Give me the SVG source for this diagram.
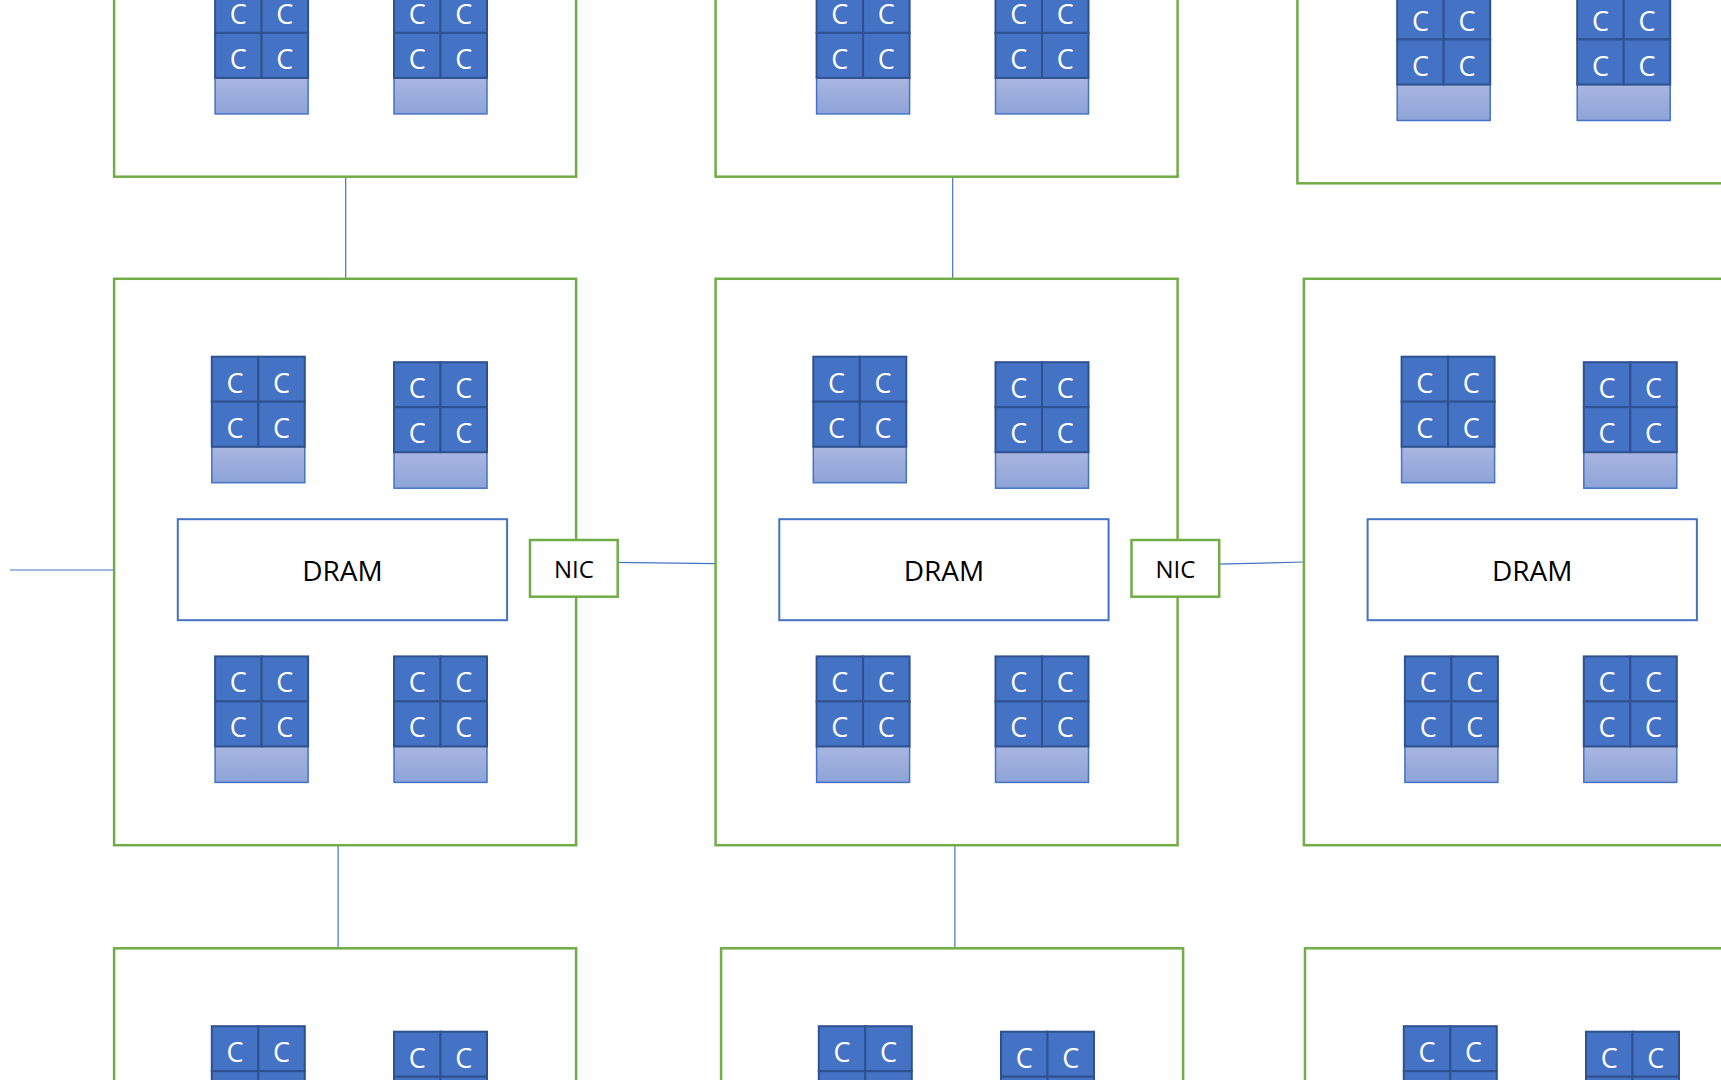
<svg xmlns="http://www.w3.org/2000/svg" xmlns:xlink="http://www.w3.org/1999/xlink" width="1721" height="1080" viewBox="0 0 1721 1080">
<style>
.mod{fill:none;stroke:#70AD47;stroke-width:2.5}
.nic{fill:#fff;stroke:#70AD47;stroke-width:2.5}
.dram{fill:#fff;stroke:#4472C4;stroke-width:2}
.core{fill:#4472C4;stroke:#2F528F;stroke-width:2}
.cache{fill:url(#cg);stroke:#4472C4;stroke-width:1.5}
.ct{font-family:"Open Sans","Noto Sans",sans-serif;font-size:27px;fill:#fff;text-anchor:middle;dominant-baseline:central}
.lbl{font-family:"Open Sans","Noto Sans",sans-serif;fill:#000;text-anchor:middle;dominant-baseline:central}
.conn{stroke:#4472C4;stroke-width:1.2;fill:none}
</style>
<defs>
<linearGradient id="cg" x1="0" y1="0" x2="0" y2="1">
<stop offset="0" stop-color="#A9B6E0"/>
<stop offset="1" stop-color="#8DA3D8"/>
</linearGradient>
<g id="chip">
<rect class="cache" x="0" y="90" width="93" height="36"/>
<rect class="core" x="0" y="0" width="46.5" height="45"/>
<rect class="core" x="46.5" y="0" width="46.5" height="45"/>
<rect class="core" x="0" y="45" width="46.5" height="45"/>
<rect class="core" x="46.5" y="45" width="46.5" height="45"/>
<text class="ct" x="23.25" y="25.5">C</text>
<text class="ct" x="69.75" y="25.5">C</text>
<text class="ct" x="23.25" y="70.5">C</text>
<text class="ct" x="69.75" y="70.5">C</text>
</g>
</defs>
<rect width="1721" height="1080" fill="#fff"/>

<g id="connectors">
<line class="conn" x1="345.7" y1="176.7" x2="345.7" y2="278.8"/>
<line class="conn" x1="952.7" y1="176.7" x2="952.7" y2="278.8"/>
<line class="conn" x1="338.1" y1="845.2" x2="338.1" y2="948.3"/>
<line class="conn" x1="954.9" y1="845.2" x2="954.9" y2="948.3"/>
<line class="conn" x1="10" y1="570" x2="114.1" y2="570"/>
<line class="conn" x1="615" y1="562.3" x2="715.6" y2="563.7"/>
<line class="conn" x1="1218" y1="564.2" x2="1303.9" y2="562"/>
</g>

<g id="module-top-left" transform="translate(114.1,-389.7)">
<rect class="mod" x="0" y="0" width="462" height="566.4"/>
<use xlink:href="#chip" x="101" y="377.6"/>
<use xlink:href="#chip" x="279.9" y="377.6"/>
</g>
<g id="module-top-middle" transform="translate(715.6,-389.7)">
<rect class="mod" x="0" y="0" width="462" height="566.4"/>
<use xlink:href="#chip" x="101" y="377.6"/>
<use xlink:href="#chip" x="279.9" y="377.6"/>
</g>
<g id="module-top-right" transform="translate(1297.4,-383.1)">
<rect class="mod" x="0" y="0" width="462" height="566.4"/>
<use xlink:href="#chip" x="99.8" y="377.6"/>
<use xlink:href="#chip" x="279.8" y="377.6"/>
</g>

<g id="module-mid-left" transform="translate(114.1,278.8)">
<rect class="mod" x="0" y="0" width="462" height="566.4"/>
<use xlink:href="#chip" x="97.7" y="77.9"/>
<use xlink:href="#chip" x="279.9" y="83.4"/>
<use xlink:href="#chip" x="101" y="377.6"/>
<use xlink:href="#chip" x="279.9" y="377.6"/>
<rect class="dram" x="63.7" y="240.4" width="329.3" height="101"/>
<text class="lbl" x="228.3" y="291.5" font-size="28">DRAM</text>
<g id="nic-left">
<rect class="nic" x="415.9" y="261.2" width="87.7" height="56.7"/>
<text class="lbl" x="459.8" y="289.8" font-size="24">NIC</text>
</g>
</g>
<g id="module-mid-middle" transform="translate(715.6,278.8)">
<rect class="mod" x="0" y="0" width="462" height="566.4"/>
<use xlink:href="#chip" x="97.7" y="77.9"/>
<use xlink:href="#chip" x="279.9" y="83.4"/>
<use xlink:href="#chip" x="101" y="377.6"/>
<use xlink:href="#chip" x="279.9" y="377.6"/>
<rect class="dram" x="63.7" y="240.4" width="329.3" height="101"/>
<text class="lbl" x="228.3" y="291.5" font-size="28">DRAM</text>
<g id="nic-middle">
<rect class="nic" x="415.9" y="261.2" width="87.7" height="56.7"/>
<text class="lbl" x="459.8" y="289.8" font-size="24">NIC</text>
</g>
</g>
<g id="module-mid-right" transform="translate(1303.9,278.8)">
<rect class="mod" x="0" y="0" width="462" height="566.4"/>
<use xlink:href="#chip" x="97.7" y="77.9"/>
<use xlink:href="#chip" x="279.9" y="83.4"/>
<use xlink:href="#chip" x="101" y="377.6"/>
<use xlink:href="#chip" x="279.9" y="377.6"/>
<rect class="dram" x="63.7" y="240.4" width="329.3" height="101"/>
<text class="lbl" x="228.3" y="291.5" font-size="28">DRAM</text>
</g>

<g id="module-bot-left" transform="translate(114.1,948.3)">
<rect class="mod" x="0" y="0" width="462" height="566.4"/>
<use xlink:href="#chip" x="97.7" y="77.9"/>
<use xlink:href="#chip" x="279.9" y="83.4"/>
</g>
<g id="module-bot-middle" transform="translate(721.1,948.3)">
<rect class="mod" x="0" y="0" width="462" height="566.4"/>
<use xlink:href="#chip" x="97.7" y="77.9"/>
<use xlink:href="#chip" x="279.9" y="83.4"/>
</g>
<g id="module-bot-right" transform="translate(1305,948.3)">
<rect class="mod" x="0" y="0" width="462" height="566.4"/>
<use xlink:href="#chip" x="98.8" y="77.9"/>
<use xlink:href="#chip" x="281" y="83.4"/>
</g>
</svg>
